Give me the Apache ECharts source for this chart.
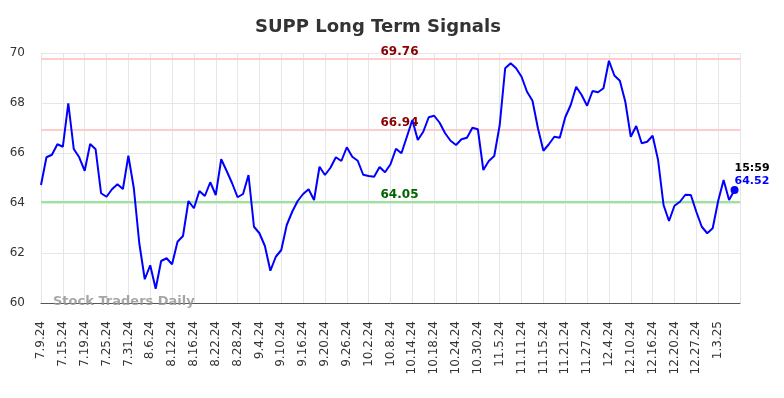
<!DOCTYPE html>
<html>
<head>
<meta charset="utf-8">
<script src="https://cdn.jsdelivr.net/npm/echarts@6/dist/echarts.min.js"></script>
<style>html,body{margin:0;padding:0;background:#fff}#c{width:784px;height:398px}</style>
</head>
<body>
<div id="c"></div>
<script>
var title = 'SUPP Long Term Signals';
var dates = [
'7.9.24','7.10.24','7.11.24','7.12.24','7.15.24','7.16.24','7.17.24','7.18.24','7.19.24','7.22.24','7.23.24','7.24.24','7.25.24','7.26.24','7.29.24','7.30.24','7.31.24',
'8.1.24','8.2.24','8.5.24','8.6.24','8.7.24','8.8.24','8.9.24','8.12.24','8.13.24','8.14.24','8.15.24','8.16.24','8.19.24','8.20.24','8.21.24','8.22.24','8.23.24','8.26.24','8.27.24','8.28.24','8.29.24','8.30.24',
'9.3.24','9.4.24','9.5.24','9.6.24','9.9.24','9.10.24','9.11.24','9.12.24','9.13.24','9.16.24','9.17.24','9.18.24','9.19.24','9.20.24','9.23.24','9.24.24','9.25.24','9.26.24','9.27.24','9.30.24',
'10.1.24','10.2.24','10.3.24','10.4.24','10.7.24','10.8.24','10.9.24','10.10.24','10.11.24','10.14.24','10.15.24','10.16.24','10.17.24','10.18.24','10.21.24','10.22.24','10.23.24','10.24.24','10.25.24','10.28.24','10.29.24','10.30.24','10.31.24',
'11.1.24','11.4.24','11.5.24','11.6.24','11.7.24','11.8.24','11.11.24','11.12.24','11.13.24','11.14.24','11.15.24','11.18.24','11.19.24','11.20.24','11.21.24','11.22.24','11.25.24','11.26.24','11.27.24','11.29.24',
'12.2.24','12.3.24','12.4.24','12.5.24','12.6.24','12.9.24','12.10.24','12.11.24','12.12.24','12.13.24','12.16.24','12.17.24','12.18.24','12.19.24','12.20.24','12.23.24','12.24.24','12.26.24','12.27.24','12.30.24','12.31.24',
'1.2.25','1.3.25','1.6.25','1.7.25','1.8.25'
];
var prices = [
64.72,65.83,65.93,66.35,66.25,67.99,66.16,65.83,65.29,66.36,66.15,64.39,64.25,64.55,64.75,64.56,65.89,
64.59,62.39,60.95,61.51,60.57,61.68,61.79,61.55,62.45,62.68,64.08,63.79,64.48,64.28,64.83,64.32,65.75,65.28,64.79,64.23,64.36,65.12,
63.05,62.79,62.28,61.29,61.85,62.12,63.12,63.65,64.08,64.36,64.55,64.12,65.45,65.12,65.41,65.83,65.68,66.23,65.85,65.69,
65.13,65.08,65.05,65.44,65.23,65.55,66.17,65.99,66.65,67.32,66.52,66.85,67.43,67.49,67.21,66.79,66.49,66.32,66.55,66.61,67.01,66.95,65.32,
65.68,65.88,67.12,69.39,69.59,69.39,69.05,68.45,68.09,66.99,66.09,66.35,66.65,66.61,67.43,67.92,68.65,68.32,67.89,68.48,
68.43,68.59,69.69,69.10,68.89,68.05,66.65,67.08,66.39,66.45,66.69,65.72,63.92,63.28,63.89,64.05,64.33,64.32,63.65,63.05,62.79,
62.99,64.08,64.92,64.12,64.52
];
var resistanceLevels = [69.76, 66.94];
var supportLevels = [64.05];
var lastTime = '15:59';
var watermark = 'Stock Traders Daily';
var yTicks = [60, 62, 64, 66, 68, 70];

var FONT = 'DejaVu Sans';
var categories = dates.concat(['']);
var lastIdx = prices.length - 1;
var lastVal = prices[lastIdx];

var chart = echarts.init(document.getElementById('c'), null, {renderer: 'canvas'});

var markData = [];
resistanceLevels.forEach(function (v) {
  markData.push({yAxis: v, lineStyle: {color: '#ffcccc', width: 2, type: 'solid'},
    label: {color: '#8b0000'}});
});
supportLevels.forEach(function (v) {
  markData.push({yAxis: v, lineStyle: {color: '#99e699', width: 2, type: 'solid'},
    label: {color: '#006400'}});
});

chart.setOption({
  animation: false,
  backgroundColor: '#ffffff',
  title: {
    text: title, left: 250, top: 13,
    textStyle: {fontFamily: FONT, fontSize: 18, fontWeight: 'bold', color: '#333333'}
  },
  grid: {left: 41, right: 44, top: 53, bottom: 95, containLabel: false},
  xAxis: {
    type: 'category', data: categories, boundaryGap: false,
    axisLine: {show: true, lineStyle: {color: '#555555', width: 1}},
    axisTick: {show: false},
    axisLabel: {interval: 3, rotate: 90, margin: 18, fontFamily: FONT, fontSize: 12, color: '#333333'},
    splitLine: {show: true, interval: 3, lineStyle: {color: '#e6e6e6', width: 1}}
  },
  yAxis: {
    type: 'value', min: yTicks[0], max: yTicks[yTicks.length - 1], interval: 2,
    axisLine: {show: false}, axisTick: {show: false},
    axisLabel: {margin: 16, fontFamily: FONT, fontSize: 12, color: '#333333'},
    splitLine: {show: true, lineStyle: {color: '#e6e6e6', width: 1}}
  },
  graphic: [{
    type: 'text', left: 53, top: 295, z: 100,
    style: {text: watermark, fontFamily: FONT, fontSize: 13, fontWeight: 'bold', fill: 'rgba(150,150,150,0.85)'}
  }],
  series: [{
    type: 'line', data: prices, showSymbol: false, symbol: 'none',
    lineStyle: {color: '#0000ff', width: 2}, z: 3,
    markLine: {
      silent: true, symbol: ['none', 'none'], z: 2,
      label: {show: true, position: 'insideMiddleTop', distance: 1, offset: [9, 0],
        fontFamily: FONT, fontSize: 12, fontWeight: 'bold',
        formatter: function (p) { return p.value.toFixed(2); }},
      data: markData
    }
  }, {
    type: 'scatter', data: [[lastIdx, lastVal]], symbolSize: 8, z: 4,
    itemStyle: {color: '#0000ff', opacity: 1},
    label: {
      show: true, position: 'top', align: 'left', distance: -1.5,
      formatter: function () { return '{t|' + lastTime + '}\n{v|' + lastVal.toFixed(2) + '}'; },
      rich: {
        t: {fontFamily: FONT, fontSize: 11, fontWeight: 'bold', color: '#000000', lineHeight: 13},
        v: {fontFamily: FONT, fontSize: 11, fontWeight: 'bold', color: '#0000ff', lineHeight: 13}
      }
    }
  }]
});
</script>
</body>
</html>
